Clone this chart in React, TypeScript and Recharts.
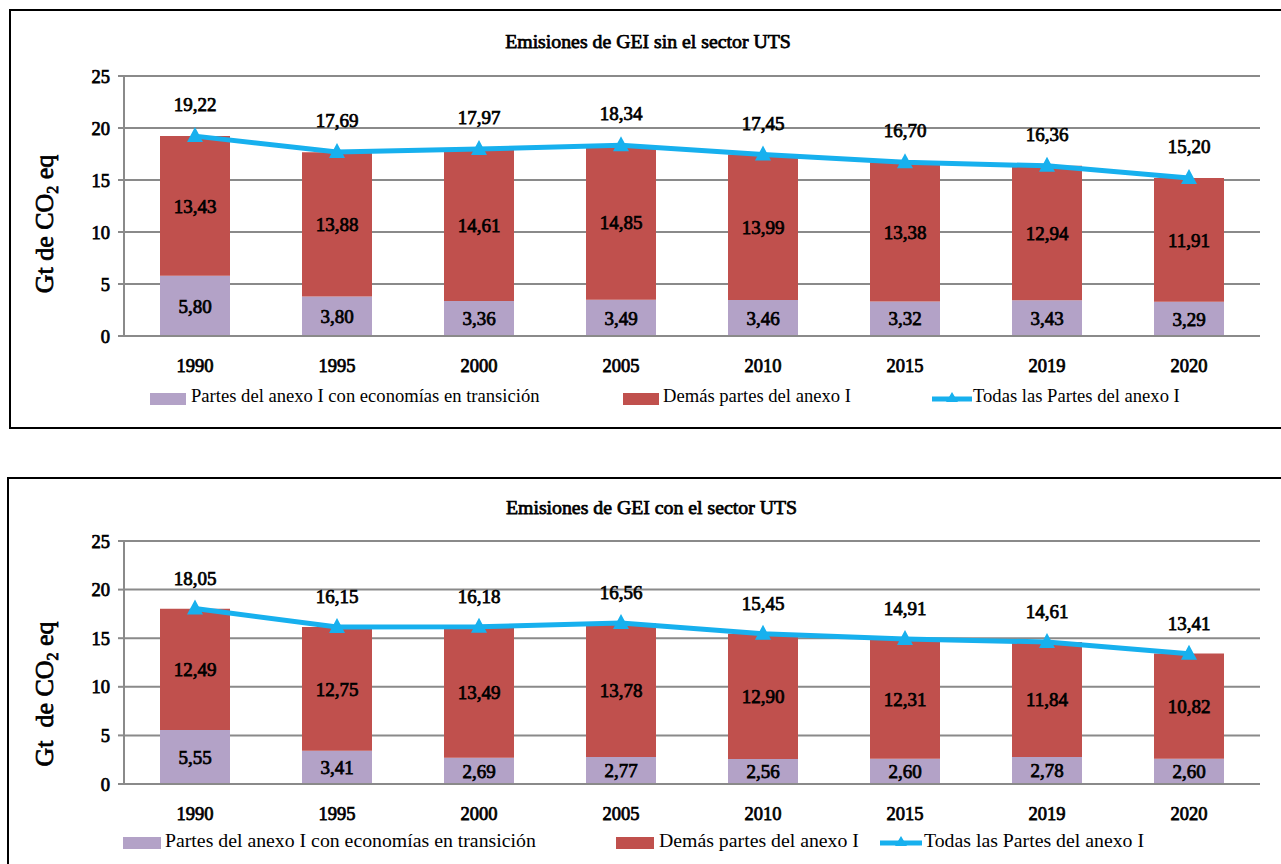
import { ComposedChart, Bar, Line, XAxis, YAxis, CartesianGrid, LabelList } from 'recharts';

const years = ['1990', '1995', '2000', '2005', '2010', '2015', '2019', '2020'];
const yTicks = [0, 5, 10, 15, 20, 25];

// Emisiones sin UTS (Gt CO2 eq)
const sinTransicion = [5.8, 3.8, 3.36, 3.49, 3.46, 3.32, 3.43, 3.29];
const sinDemas = [13.43, 13.88, 14.61, 14.85, 13.99, 13.38, 12.94, 11.91];
const sinTotal = [19.22, 17.69, 17.97, 18.34, 17.45, 16.7, 16.36, 15.2];

// Emisiones con UTS
const conTransicion = [5.55, 3.41, 2.69, 2.77, 2.56, 2.6, 2.78, 2.6];
const conDemas = [12.49, 12.75, 13.49, 13.78, 12.9, 12.31, 11.84, 10.82];
const conTotal = [18.05, 16.15, 16.18, 16.56, 15.45, 14.91, 14.61, 13.41];

const PURPLE = '#b3a2c7';
const RED = '#c0504d';
const BLUE = '#17b0ee';
const GRID = '#8a8a8a';
const FONT = "'Liberation Serif', 'Times New Roman', serif";

// no bold serif face installed: fake it with a thin stroke
const boldSvg = { fill: '#000', stroke: '#000', strokeWidth: 0.75, fontWeight: 400, fontFamily: FONT };
const boldHtml = { WebkitTextStroke: '0.75px #000', fontWeight: 400 } as const;

const fmt = (v: any) => Number(v).toFixed(2).replace('.', ',');

const Triangle = (props: any) => {
  const { cx, cy } = props;
  if (cx == null || cy == null) return null;
  return <polygon points={`${cx},${cy - 9} ${cx - 8},${cy + 6} ${cx + 8},${cy + 6}`} fill={BLUE} />;
};

interface ChartProps {
  top: number;
  height: number;
  marginTop: number;
  marginBottom: number;
  transicion: number[];
  demas: number[];
  total: number[];
  lineOffset: number;
}

function EmisionesChart({ top, height, marginTop, marginBottom, transicion, demas, total, lineOffset }: ChartProps) {
  const data = years.map((y, i) => ({
    year: y,
    transicion: transicion[i],
    demas: demas[i],
    total: total[i],
  }));
  const labelStyle = { ...boldSvg, fontSize: 19 };

  return (
    <div style={{ position: 'absolute', left: 0, top }}>
      <ComposedChart
        width={1281}
        height={height}
        data={data}
        barSize={70}
        margin={{ top: marginTop, right: 21, bottom: marginBottom, left: 0 }}
      >
        <CartesianGrid vertical={false} stroke={GRID} strokeWidth={2} />
        <XAxis
          dataKey="year"
          height={30}
          tickSize={0}
          tickMargin={23}
          axisLine={{ stroke: GRID, strokeWidth: 2 }}
          tick={{ ...boldSvg, fontSize: 18.5 }}
        />
        <YAxis
          width={124}
          domain={[0, 25]}
          ticks={yTicks}
          tickSize={6}
          tickMargin={8}
          axisLine={{ stroke: GRID, strokeWidth: 2 }}
          tickLine={{ stroke: GRID, strokeWidth: 2 }}
          tick={{ ...boldSvg, fontSize: 18.5 }}
        />
        <Bar dataKey="transicion" stackId="a" fill={PURPLE} isAnimationActive={false}>
          <LabelList dataKey="transicion" position="center" formatter={fmt} {...labelStyle} />
        </Bar>
        <Bar dataKey="demas" stackId="a" fill={RED} isAnimationActive={false}>
          <LabelList dataKey="demas" position="center" formatter={fmt} {...labelStyle} />
        </Bar>
        <Line
          type="linear"
          dataKey="total"
          stroke={BLUE}
          strokeWidth={5}
          dot={<Triangle />}
          activeDot={false}
          isAnimationActive={false}
        >
          <LabelList dataKey="total" position="top" offset={lineOffset} formatter={fmt} {...labelStyle} />
        </Line>
      </ComposedChart>
    </div>
  );
}

function Legend({ y, fontSize, items }: { y: number; fontSize: number; items: { sq: number; sw: number; tx: number; kind: string; label: string; color: string }[] }) {
  return (
    <>
      {items.map((it, i) => (
        <div key={i}>
          {it.kind === 'bar' ? (
            <div style={{ position: 'absolute', left: it.sq, top: y - 6, width: it.sw, height: 12, background: it.color }} />
          ) : (
            <svg style={{ position: 'absolute', left: it.sq, top: y - 10 }} width={it.sw} height={20}>
              <line x1={0} y1={10} x2={it.sw} y2={10} stroke={it.color} strokeWidth={5} strokeLinecap="round" />
              <polygon points={`${it.sw / 2},3 ${it.sw / 2 - 6},13 ${it.sw / 2 + 6},13`} fill={it.color} />
            </svg>
          )}
          <div style={{ position: 'absolute', left: it.tx, top: y - fontSize * 0.62, fontSize, lineHeight: 1, whiteSpace: 'nowrap', color: '#000' }}>
            {it.label}
          </div>
        </div>
      ))}
    </>
  );
}

function YLabel({ cx, cy, text }: { cx: number; cy: number; text: string }) {
  return (
    <div
      style={{
        position: 'absolute',
        left: cx,
        top: cy,
        transform: 'translate(-50%, -50%) rotate(-90deg)',
        whiteSpace: 'nowrap',
        fontSize: 26,
        lineHeight: 1,
        ...boldHtml,
      }}
    >
      {text}CO<span style={{ fontSize: 16, position: 'relative', top: 5 }}>2</span> eq
    </div>
  );
}

const legendNames = ['Partes del anexo I con economías en transición', 'Demás partes del anexo I', 'Todas las Partes del anexo I'];

export default function App() {
  return (
    <div style={{ position: 'absolute', left: 0, top: 0, width: 1281, height: 864, overflow: 'hidden', background: '#fff', fontFamily: FONT }}>
      {/* top box */}
      <div style={{ position: 'absolute', left: 9, top: 9, width: 1300, height: 420, border: '2px solid #000', boxSizing: 'border-box' }} />
      <div style={{ position: 'absolute', left: 0, width: 1296, top: 32, textAlign: 'center', fontSize: 19.8, lineHeight: 1, ...boldHtml }}>
        Emisiones de GEI sin el sector UTS
      </div>
      <YLabel cx={45} cy={224} text="Gt de " />
      <EmisionesChart top={0} height={430} marginTop={76} marginBottom={64} transicion={sinTransicion} demas={sinDemas} total={sinTotal} lineOffset={25} />
      <Legend
        y={399}
        fontSize={18.6}
        items={[
          { sq: 150, sw: 36, tx: 191, kind: 'bar', label: legendNames[0], color: PURPLE },
          { sq: 623, sw: 36, tx: 663, kind: 'bar', label: legendNames[1], color: RED },
          { sq: 932, sw: 40, tx: 973, kind: 'line', label: legendNames[2], color: BLUE },
        ]}
      />

      {/* bottom box */}
      <div style={{ position: 'absolute', left: 7, top: 477, width: 1300, height: 500, border: '2px solid #000', boxSizing: 'border-box' }} />
      <div style={{ position: 'absolute', left: 0, width: 1303, top: 498, textAlign: 'center', fontSize: 19.8, lineHeight: 1, ...boldHtml }}>
        Emisiones de GEI con el sector UTS
      </div>
      <YLabel cx={45} cy={694} text={'Gt \u00a0de '} />
      <EmisionesChart top={470} height={394} marginTop={71} marginBottom={50} transicion={conTransicion} demas={conDemas} total={conTotal} lineOffset={24} />
      <Legend
        y={843}
        fontSize={19.8}
        items={[
          { sq: 123, sw: 38, tx: 165, kind: 'bar', label: legendNames[0], color: PURPLE },
          { sq: 616, sw: 38, tx: 659, kind: 'bar', label: legendNames[1], color: RED },
          { sq: 880, sw: 42, tx: 924, kind: 'line', label: legendNames[2], color: BLUE },
        ]}
      />
    </div>
  );
}
